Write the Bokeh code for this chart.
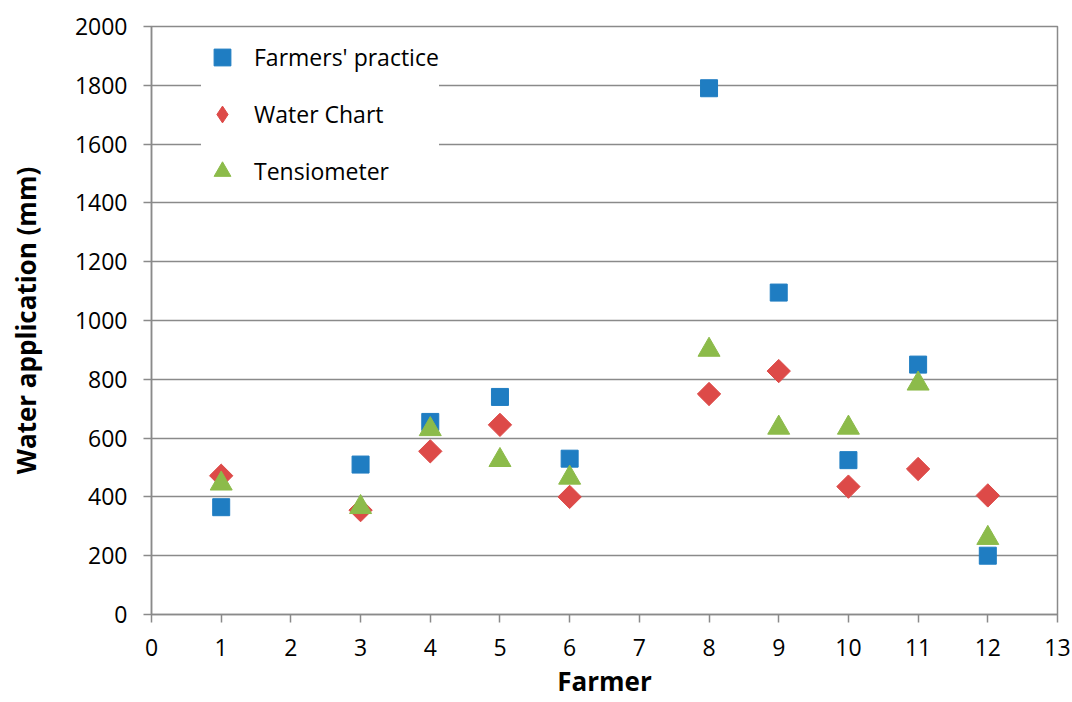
import numpy as np
from bokeh.plotting import figure
from bokeh.models import ColumnDataSource, Range1d, FixedTicker, Legend, LegendItem
from bokeh.embed import file_html
from bokeh.resources import INLINE

farmers = [1, 3, 4, 5, 6, 8, 9, 10, 11, 12]
farmers_practice = [365, 510, 655, 740, 530, 1790, 1095, 525, 850, 200]
water_chart = [472, 355, 555, 645, 400, 750, 828, 435, 495, 405]
tensiometer = [445, 365, 630, 525, 465, 900, 635, 635, 785, 260]

x_ticks = list(range(0, 14))
y_ticks = list(range(0, 2001, 200))

FONT = "Open Sans"
GRID = "#8a8a8a"
BLUE, RED, GREEN = "#1f7dc2", "#dd4a48", "#8cbb4a"

p = figure(frame_width=906, frame_height=588, output_backend="svg", toolbar_location=None,
           x_range=Range1d(0, 13), y_range=Range1d(0, 2000),
           min_border_left=151, min_border_top=26, min_border_right=14, min_border_bottom=88)
p.outline_line_color = GRID
p.outline_line_width = 1.5
p.background_fill_color = "white"
p.border_fill_color = "white"

src = ColumnDataSource(dict(x=farmers, fp=farmers_practice, wc=water_chart, te=tensiometer))
r1 = p.scatter("x", "fp", source=src, marker="square", size=17, fill_color=BLUE, line_color=BLUE)
r2 = p.scatter("x", "wc", source=src, marker="square", angle=np.pi / 4, size=16.5,
               fill_color=RED, line_color=RED)
r3 = p.scatter("x", "te", source=src, marker="triangle", size=22, fill_color=GREEN, line_color=GREEN)
# legend swatch for the diamond series (legend glyphs are drawn unrotated); NaN point is not drawn
r2_key = p.scatter(x=[np.nan], y=[np.nan], marker="diamond", fill_color=RED, line_color=RED)

p.xgrid.grid_line_color = None
p.ygrid.grid_line_color = GRID
p.ygrid.grid_line_width = 1.5
p.xaxis.ticker = FixedTicker(ticks=x_ticks)
p.yaxis.ticker = FixedTicker(ticks=y_ticks)
for ax in (p.xaxis[0], p.yaxis[0]):
    ax.axis_line_color = GRID
    ax.axis_line_width = 1.5
    ax.major_tick_line_color = GRID
    ax.major_tick_line_width = 1.5
    ax.major_tick_in = 0
    ax.major_tick_out = 8
    ax.minor_tick_line_color = None
    ax.major_label_text_font = FONT
    ax.major_label_text_font_size = "23px"
    ax.major_label_text_color = "black"
    ax.axis_label_text_font = FONT
    ax.axis_label_text_font_size = "26px"
    ax.axis_label_text_font_style = "bold"
    ax.axis_label_text_color = "black"
p.xaxis.axis_label = "Farmer"
p.yaxis.axis_label = "Water application (mm)"
p.xaxis.major_label_standoff = 16
p.yaxis.major_label_standoff = 16
p.xaxis.axis_label_standoff = 4
p.yaxis.axis_label_standoff = 28

legend = Legend(items=[LegendItem(label="Farmers' practice", renderers=[r1]),
                       LegendItem(label="Water Chart", renderers=[r2_key]),
                       LegendItem(label="Tensiometer", renderers=[r3])],
                location=(50, 422))
legend.background_fill_color = "white"
legend.background_fill_alpha = 1
legend.border_line_color = None
legend.padding = 7
legend.glyph_width = 42
legend.glyph_height = 42
legend.spacing = 15
legend.label_standoff = 11
legend.label_text_font = FONT
legend.label_text_font_size = "23px"
legend.label_text_color = "black"
legend.margin = 0
p.add_layout(legend, "center")

open("out.html", "w").write(file_html(p, INLINE))
